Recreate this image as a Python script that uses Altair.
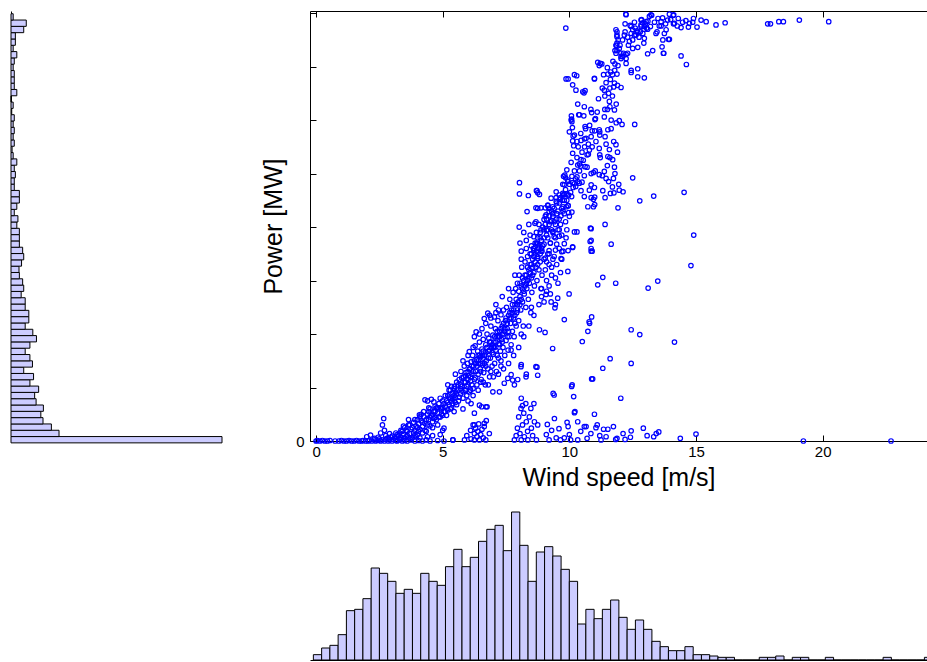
import altair as alt
import pandas as pd

# ---------------- histogram data ----------------
power_bin_start = -0.035
power_bin_width = 0.118
power_counts = [580, 132, 111, 88, 82, 89, 69, 65, 76, 52, 62, 35, 59, 52, 39, 52, 70, 60, 39, 49,
                49, 39, 39, 28, 35, 32, 23, 22, 29, 35, 32, 23, 23, 23, 16, 19, 9, 16, 23, 23,
                9, 9, 12, 9, 16, 6, 3, 9, 6, 9, 6, 9, 2, 6, 0, 16, 9, 9, 9, 6,
                9, 16, 6, 12, 12, 35, 42, 6]

wind_bin_start = -0.107
wind_bin_width = 0.326
wind_counts = [4, 9, 11, 19, 37, 38, 46, 69, 65, 59, 50, 53, 50, 65, 59, 56, 70, 83, 70, 77,
               89, 98, 101, 82, 111, 86, 59, 81, 85, 78, 68, 59, 27, 38, 31, 38, 45, 32, 23, 30,
               23, 14, 10, 7, 7, 10, 4, 4, 3, 2, 2, 0, 0, 0, 2, 2, 3, 0, 2, 2,
               0, 0, 2, 0, 0, 0, 0, 0, 0, 2, 0, 0, 0, 0, 2]

# ---------------- scatter data (wind speed, power) ----------------
calm_points = [
    (0.0, 0.0), (0.05, 0.01), (0.15, 0.0), (0.25, 0.01), (0.35, 0.0), (0.45, 0.0), (0.55, 0.01),
    (0.75, 0.0), (0.9, 0.0), (1.0, 0.01), (1.1, 0.0), (1.2, 0.0), (1.3, 0.01), (1.4, 0.0), (1.5, 0.0),
    (1.6, 0.01), (1.7, 0.0), (1.8, 0.0), (1.85, 0.01), (1.95, 0.0), (2.05, 0.0), (2.1, 0.01), (2.2, 0.0),
    (2.3, 0.02), (2.35, 0.0), (2.45, 0.01), (2.55, 0.0), (2.6, 0.02), (2.7, 0.0), (2.75, 0.03), (2.85, 0.0),
    (2.9, 0.02), (3.0, 0.0), (3.05, 0.03), (3.15, 0.01), (3.2, 0.0), (3.3, 0.02), (3.4, 0.0), (3.5, 0.01),
    (3.6, 0.0), (3.75, 0.02), (3.9, 0.0), (4.05, 0.01), (4.2, 0.0), (4.35, 0.02), (4.5, 0.0), (4.8, 0.01),
    (5.05, 0.0), (5.4, 0.02),
    (2.0, 0.08), (2.15, 0.11), (2.3, 0.05), (2.45, 0.07), (2.55, 0.15), (2.62, 0.3), (2.67, 0.42),
    (2.7, 0.2), (2.75, 0.1), (2.85, 0.06), (2.9, 0.14), (3.0, 0.09), (3.1, 0.05), (3.15, 0.15),
    (3.25, 0.1), (3.35, 0.07), (3.4, 0.18),
    (2.5, 0.04), (2.8, 0.05), (3.1, 0.08), (3.3, 0.04), (3.5, 0.06), (3.7, 0.05), (3.9, 0.1),
    (4.1, 0.06), (4.4, 0.08), (4.6, 0.1), (4.9, 0.12),
]

rise_points = [
    (3.45, 0.12), (3.5, 0.25), (3.55, 0.08), (3.6, 0.18), (3.65, 0.3), (3.7, 0.14), (3.75, 0.22),
    (3.8, 0.06), (3.85, 0.35), (3.9, 0.2), (3.95, 0.28), (4.0, 0.12), (4.0, 0.4), (4.05, 0.32),
    (4.08, 0.49), (4.1, 0.22), (4.15, 0.38), (4.2, 0.27), (4.25, 0.45), (4.3, 0.77), (4.3, 0.33),
    (4.35, 0.18), (4.4, 0.5), (4.4, 0.75), (4.45, 0.4), (4.5, 0.28), (4.5, 0.6), (4.55, 0.78),
    (4.55, 0.47), (4.6, 0.36), (4.65, 0.55), (4.65, 0.73), (4.7, 0.44), (4.75, 0.62), (4.8, 0.3),
    (4.8, 0.52), (4.85, 0.7), (4.9, 0.45), (4.95, 0.6), (5.0, 0.75), (5.05, 0.55), (5.1, 0.85),
    (5.1, 0.65), (5.15, 0.48), (5.2, 0.72), (5.25, 0.95), (5.3, 0.6), (5.3, 0.8), (5.35, 1.02),
    (5.4, 0.7), (5.4, 0.9), (5.45, 0.55), (5.46, 1.02), (5.5, 0.82), (5.55, 1.1), (5.55, 0.68),
    (3.3, 0.15), (3.55, 0.2), (3.7, 0.3), (3.85, 0.15), (4.0, 0.25), (4.15, 0.5), (4.2, 0.15),
    (4.35, 0.4), (4.45, 0.55), (4.6, 0.5), (4.7, 0.65), (4.75, 0.4), (4.9, 0.8), (4.95, 0.5),
    (5.05, 0.7), (5.2, 0.58), (5.25, 0.82), (5.35, 0.75), (5.45, 0.85),
    (3.2, 0.12), (3.35, 0.2), (3.45, 0.28), (3.6, 0.1), (3.65, 0.4), (3.8, 0.25), (3.9, 0.4),
    (3.95, 0.08), (4.05, 0.18), (4.1, 0.45), (4.2, 0.35), (4.25, 0.55), (4.3, 0.2), (4.4, 0.3),
    (4.45, 0.62), (4.5, 0.45), (4.6, 0.25), (4.65, 0.42), (4.7, 0.55), (4.8, 0.62), (4.85, 0.45),
    (4.9, 0.62), (5.0, 0.48), (5.0, 0.62), (5.1, 0.55), (5.15, 0.75), (5.2, 0.85), (5.25, 0.68),
    (5.3, 0.95), (5.35, 0.62), (5.4, 0.8), (5.45, 0.98), (5.5, 0.72), (5.5, 0.92), (5.55, 0.88),
]

mid_points = [
    (5.6, 0.95), (5.62, 0.75), (5.65, 1.15), (5.7, 0.88), (5.72, 1.3), (5.75, 1.02), (5.8, 0.8),
    (5.82, 1.2), (5.85, 1.4), (5.88, 0.95), (5.9, 1.1), (5.92, 1.28), (5.95, 0.85), (5.98, 1.45),
    (6.0, 1.05), (6.02, 1.22), (6.05, 0.92), (6.08, 1.35), (6.1, 1.12), (6.15, 1.25), (6.18, 1.6),
    (6.2, 0.98), (6.22, 1.4), (6.25, 1.95), (6.25, 1.15), (6.28, 1.78), (6.3, 1.3), (6.32, 2.04),
    (6.33, 1.52), (6.35, 1.05), (6.38, 1.68), (6.4, 1.25), (6.42, 1.45), (6.45, 1.85), (6.48, 1.35),
    (6.5, 1.58), (6.52, 1.15), (6.55, 1.72), (6.58, 1.42), (6.6, 1.9), (6.62, 1.28), (6.64, 2.29),
    (6.65, 1.6), (6.68, 1.05), (6.7, 1.8), (6.72, 1.5), (6.75, 2.0), (6.78, 2.39), (6.78, 1.35),
    (6.8, 1.68), (6.82, 1.92), (6.85, 1.2), (6.88, 1.55), (6.9, 2.15), (6.92, 1.75), (6.95, 1.4),
    (6.98, 1.98), (7.0, 1.62), (7.02, 1.85), (7.04, 2.32), (7.05, 1.45), (7.08, 2.1), (7.1, 1.7),
    (7.12, 1.3), (7.15, 1.95), (7.18, 2.25), (7.2, 1.55), (7.22, 1.82), (7.25, 2.05), (7.28, 1.68),
    (7.3, 2.36), (7.3, 1.4), (7.32, 1.9), (7.35, 2.15), (7.38, 1.75), (7.4, 2.45), (7.42, 2.0),
    (7.45, 1.6), (7.48, 2.25), (7.5, 1.88), (7.52, 2.5), (7.55, 2.1), (7.58, 1.7), (7.6, 2.35),
    (7.62, 1.95), (7.65, 2.65), (7.68, 2.2), (7.7, 1.8), (7.72, 2.45), (7.75, 2.05), (7.78, 2.78),
    (7.8, 2.3), (7.82, 1.95), (7.85, 2.55), (7.88, 2.85), (7.9, 2.15), (7.92, 2.4), (7.95, 2.95),
    (7.98, 2.6), (8.0, 2.25), (8.02, 3.1), (8.05, 2.7), (8.08, 2.45), (8.1, 2.9), (8.12, 3.25),
    (8.15, 2.6), (8.18, 2.15), (8.2, 3.0), (8.22, 2.75), (8.25, 3.35), (8.28, 2.5), (8.3, 3.1),
    (8.32, 2.85), (8.35, 3.45), (8.38, 2.65), (8.4, 3.2), (8.42, 2.95), (8.45, 3.5), (8.48, 2.4),
    (8.5, 3.3), (8.5, 3.05), (8.52, 2.78), (8.55, 3.4), (8.58, 3.6), (8.6, 3.15), (8.62, 2.9),
    (8.65, 3.5), (8.68, 3.25), (8.7, 3.7), (8.72, 3.0), (8.75, 3.45), (8.78, 3.6), (8.8, 3.2),
    (8.85, 3.35), (8.88, 3.55), (8.9, 2.85), (8.92, 3.1), (8.95, 3.65), (9.0, 3.4), (9.05, 3.2),
    (9.1, 3.0), (9.15, 3.5), (9.2, 3.3), (9.25, 2.75), (9.3, 3.1), (9.1, 3.35), (9.2, 3.5),
    (9.3, 3.25), (9.4, 3.45), (9.5, 3.3), (9.6, 3.6), (9.7, 3.4), (9.45, 3.05), (9.55, 2.95),
    (9.65, 3.15), (9.75, 3.55),
    (5.7, 1.05), (5.9, 0.95), (6.0, 1.3), (6.15, 1.05), (6.3, 1.45), (6.4, 1.6), (6.5, 1.3),
    (6.6, 1.55), (6.7, 1.4), (6.85, 1.85), (6.95, 1.65), (7.05, 1.75), (7.15, 1.6), (7.25, 1.95),
    (7.35, 1.85), (7.45, 2.1), (7.55, 1.95), (7.65, 2.3), (7.75, 2.4), (7.85, 2.2), (7.95, 2.45),
    (8.05, 2.55), (8.15, 2.85), (8.25, 2.9), (8.35, 3.0), (8.45, 3.15), (8.55, 3.1), (8.65, 3.35),
    (8.75, 3.3), (8.85, 3.5), (6.55, 2.1), (6.7, 2.2), (6.9, 2.3), (7.1, 2.4), (7.2, 2.45),
    (5.6, 1.05), (5.65, 0.82), (5.7, 0.98), (5.75, 1.18), (5.8, 0.92), (5.85, 1.1), (5.9, 1.22),
    (5.95, 1.02), (6.0, 1.15), (6.05, 1.35), (6.1, 1.2), (6.15, 1.4), (6.2, 1.3), (6.25, 1.5),
    (6.3, 1.18), (6.35, 1.4), (6.4, 1.5), (6.45, 1.6), (6.5, 1.45), (6.55, 1.6), (6.6, 1.68),
    (6.65, 1.45), (6.7, 1.65), (6.75, 1.75), (6.8, 1.55), (6.85, 1.7), (6.9, 1.85), (6.95, 1.8),
    (7.0, 1.75), (7.05, 1.95), (7.1, 1.85), (7.15, 2.05), (7.2, 1.95), (7.25, 1.8), (7.3, 2.1),
    (7.35, 2.0), (7.4, 2.2), (7.45, 2.05), (7.5, 2.3), (7.55, 2.2), (7.6, 2.05), (7.65, 2.4),
    (7.7, 2.3), (7.75, 2.55), (7.8, 2.45), (7.85, 2.35), (7.9, 2.65), (7.95, 2.55), (8.0, 2.8),
    (8.05, 2.95), (8.1, 2.65), (8.15, 3.05), (8.2, 2.8), (8.25, 3.1), (8.3, 2.95), (8.35, 3.25),
    (8.4, 3.05), (8.45, 3.3), (8.5, 3.5), (8.55, 3.25), (8.6, 3.45), (8.65, 3.7), (8.7, 3.55),
    (8.75, 3.8), (8.8, 3.65), (8.85, 3.9), (8.9, 3.6), (8.95, 4.0), (9.0, 3.8),
]

band_edge_points = [
    (5.8, 0.6), (6.0, 0.75), (6.2, 0.85), (6.4, 0.95), (6.6, 1.1), (6.8, 1.05), (7.0, 1.2),
    (7.2, 1.25), (7.4, 1.35), (7.6, 1.45), (7.8, 1.6), (8.0, 1.75), (8.2, 1.95), (8.4, 2.15),
    (8.6, 2.35), (8.8, 2.55), (9.0, 2.6), (9.2, 2.9), (6.1, 0.95), (6.5, 1.1), (6.9, 1.3),
    (7.3, 1.5), (7.7, 1.7), (8.1, 2.0), (8.5, 2.5), (8.9, 2.7),
    (5.2, 1.05), (5.5, 1.25), (5.8, 1.5), (6.0, 1.6), (6.2, 1.75), (6.45, 2.0), (6.85, 2.35),
    (7.1, 2.55), (7.35, 2.7), (7.6, 2.85), (7.85, 3.1), (8.1, 3.4), (8.3, 3.6),
]

upper_points = [
    (9.86, 7.72), (9.87, 6.77), (9.95, 6.77), (10.13, 6.66), (10.29, 6.83), (10.26, 6.56), (10.58, 6.51),
    (10.62, 6.55), (10.99, 6.77), (11.18, 7.02), (11.22, 7.06), (11.12, 7.08), (11.28, 7.05), (10.33, 6.3),
    (10.59, 6.25), (10.88, 6.14), (11.03, 6.03), (10.08, 6.08), (10.09, 6.02), (10.37, 6.1), (10.57, 6.08),
    (10.1, 5.97), (10.12, 5.86), (10.2, 5.72), (10.13, 5.61), (10.17, 5.52), (10.46, 5.62), (10.66, 5.66),
    (10.62, 5.88), (10.64, 5.84), (10.86, 5.69), (11.01, 6.01), (11.18, 5.82), (11.2, 5.78), (10.79, 5.44),
    (10.75, 5.36), (11.18, 5.47), (11.2, 5.35), (11.22, 5.3), (10.13, 5.38), (10.07, 5.21), (10.33, 5.16),
    (10.4, 5.18), (10.45, 5.14), (10.46, 5.26), (10.62, 5.13), (10.7, 5.12), (10.86, 5.0), (10.95, 5.02),
    (11.02, 5.05), (10.59, 4.96), (11.18, 4.98), (11.3, 4.96), (9.9, 5.07), (9.77, 4.95), (9.82, 4.97),
    (10.33, 4.85), (10.4, 4.82), (10.5, 4.84), (10.13, 4.83), (10.2, 4.81), (10.3, 4.94), (9.94, 4.85),
    (9.8, 4.79), (10.15, 4.74), (10.25, 4.76), (10.46, 4.68), (10.79, 4.69), (10.86, 4.79), (10.99, 4.74),
    (10.86, 4.55), (10.95, 4.52), (11.0, 4.56), (10.59, 4.57), (10.73, 4.38), (10.95, 4.38), (11.0, 4.42),
    (9.87, 4.62), (9.97, 4.6), (9.63, 4.52), (9.72, 4.5), (9.48, 4.55), (9.6, 4.6), (9.15, 4.4),
    (9.05, 4.36), (9.48, 4.66), (9.74, 4.63), (9.8, 4.61), (9.28, 4.54), (8.75, 4.64), (8.7, 4.68),
    (8.88, 4.36), (8.68, 4.36), (9.75, 4.38), (9.88, 4.38), (9.95, 4.4), (9.97, 4.27), (10.1, 4.28),
    (10.09, 4.57), (10.2, 3.91), (10.3, 3.91), (10.83, 3.98), (10.82, 3.73), (10.86, 3.6), (10.13, 3.62),
    (10.9, 3.55),
    (9.2, 4.21), (9.35, 4.2), (9.67, 4.21), (9.0, 4.14), (9.3, 4.12), (9.5, 4.15), (8.64, 4.07),
    (8.68, 4.1), (8.88, 3.95), (9.1, 3.94), (9.35, 3.92), (9.6, 3.95), (8.6, 3.82), (8.85, 3.8),
    (9.15, 3.8), (9.4, 3.82), (9.6, 3.83), (9.87, 3.8), (8.75, 3.69), (9.0, 3.68), (9.25, 3.7),
    (9.5, 3.68), (9.8, 3.69), (8.6, 3.56), (8.92, 3.55), (9.2, 3.56), (9.45, 3.57), (9.7, 3.54),
    (9.95, 3.56), (8.75, 3.41), (9.05, 3.42), (9.35, 3.4), (9.67, 3.41),
    (8.6, 3.6), (8.7, 3.9), (8.8, 4.05), (8.9, 3.75), (9.0, 3.95), (9.05, 4.2), (9.1, 3.85),
    (9.2, 4.05), (9.25, 3.7), (9.3, 4.3), (9.35, 3.9), (9.4, 4.1), (9.45, 3.8), (9.5, 4.25),
    (9.55, 3.95), (9.6, 4.45), (9.65, 4.05), (9.7, 3.85), (9.75, 4.3), (9.8, 4.5), (9.85, 4.1),
    (9.9, 3.95), (9.95, 4.4), (10.0, 4.2),
    (8.03, 4.83), (8.03, 4.62), (8.38, 4.59), (8.72, 4.68), (8.82, 4.61), (8.33, 4.29), (8.75, 4.35),
    (9.15, 4.41), (9.74, 4.8), (9.85, 4.92), (9.94, 4.88), (9.34, 4.38), (9.48, 4.48), (9.08, 4.23),
    (9.2, 4.29), (8.02, 4.0), (8.05, 3.7), (8.1, 3.55), (8.2, 3.9), (8.3, 3.75), (8.45, 3.85),
    (8.4, 4.05), (8.5, 3.65),
    (10.0, 5.78), (10.15, 5.7), (10.3, 5.6), (10.45, 5.75), (10.6, 5.65), (10.75, 5.55), (10.9, 5.8),
    (11.05, 5.6), (11.2, 5.72), (10.2, 6.85), (10.4, 6.1), (10.53, 6.53), (10.07, 6.0), (10.99, 6.78),
    (11.45, 6.7), (11.62, 6.76), (11.75, 6.62), (11.9, 6.65), (11.55, 6.5), (11.7, 6.45), (11.6, 6.25),
    (11.85, 6.3), (11.4, 6.2), (11.65, 6.0), (11.85, 5.95), (11.45, 5.55), (11.75, 5.6), (11.9, 5.4),
    (11.6, 5.3), (11.5, 5.15), (11.8, 5.0), (11.55, 4.85), (11.7, 4.75), (11.95, 4.8),
    (9.05, 4.05), (9.1, 4.15), (9.15, 3.95), (9.2, 4.35), (9.25, 4.1), (9.3, 3.95), (9.35, 4.25),
    (9.4, 4.35), (9.45, 4.05), (9.5, 4.45), (9.55, 4.3), (9.6, 4.15), (9.65, 4.55), (9.7, 4.35),
    (9.75, 4.6), (9.8, 4.25), (9.85, 4.7), (9.9, 4.5), (9.95, 4.6), (10.0, 4.8), (10.05, 4.65),
    (10.1, 4.95), (10.2, 5.05), (10.25, 4.9), (10.3, 5.3), (10.35, 5.5), (10.4, 5.05), (10.5, 5.4),
    (10.55, 5.25), (10.6, 5.5), (10.7, 5.35), (10.8, 5.9), (10.85, 6.2), (10.9, 5.5), (11.0, 5.8),
    (11.1, 6.15), (11.15, 6.4), (11.3, 6.6), (11.35, 6.85), (11.4, 6.45), (11.5, 6.2), (11.6, 6.6),
    (11.7, 6.85), (11.8, 7.05),
]

rated_points = [
    (12.23, 7.98), (12.83, 7.87), (13.22, 7.97), (13.68, 7.91), (13.95, 7.98), (14.1, 7.96), (14.47, 7.83),
    (14.74, 7.81), (14.87, 7.83), (15.2, 7.87), (15.4, 7.84), (15.79, 7.78), (16.15, 7.82), (17.83, 7.8),
    (17.94, 7.8), (18.27, 7.84), (18.45, 7.84), (19.08, 7.87), (20.24, 7.84), (14.41, 7.73), (14.7, 7.74),
    (15.04, 7.74), (12.2, 7.8), (12.44, 7.75), (13.55, 7.76), (13.82, 7.69), (13.95, 7.51), (13.66, 7.37),
    (13.73, 7.25), (13.29, 7.3), (13.09, 7.24), (12.7, 7.36), (12.96, 7.53), (13.36, 7.83), (12.7, 6.81),
    (12.96, 6.79), (12.44, 6.89), (12.04, 6.61), (11.78, 6.69), (11.88, 6.86), (11.52, 6.86), (11.38, 6.56),
    (11.58, 6.35), (11.78, 6.19), (11.38, 6.06), (11.52, 5.82), (11.41, 5.69), (11.65, 5.84), (11.84, 5.54),
    (11.58, 5.45), (11.52, 5.32), (11.71, 5.26), (11.78, 5.12), (11.38, 5.04), (11.45, 4.91), (11.74, 4.91),
    (11.32, 4.68), (11.62, 4.63), (11.76, 4.64), (11.97, 4.69), (12.12, 4.66), (11.41, 4.55), (12.5, 7.34),
    (12.24, 7.15), (12.14, 7.25), (12.04, 7.19), (11.84, 7.25), (11.88, 7.3), (11.86, 7.4), (11.88, 7.56),
    (11.88, 7.65), (12.17, 7.59), (12.37, 7.47), (12.33, 7.4), (12.63, 7.59), (12.67, 7.67), (12.94, 7.44),
    (12.83, 7.75), (12.96, 7.75), (13.09, 7.7), (12.57, 7.83), (12.5, 7.69), (13.42, 7.62), (13.62, 7.76),
    (13.75, 7.62), (14.11, 7.8), (14.26, 7.76),
    (11.84, 7.69), (11.88, 7.59), (11.93, 7.5), (11.88, 7.44), (11.97, 7.34), (12.04, 7.25), (12.11, 7.19),
    (12.24, 7.06), (12.3, 7.25), (12.44, 7.62), (12.57, 7.59), (12.7, 7.64), (12.83, 7.78), (13.03, 7.84),
    (13.16, 7.94), (13.25, 7.96), (13.46, 7.65), (13.62, 7.84), (13.69, 7.5), (13.71, 7.25), (13.88, 7.87),
    (14.12, 7.97), (14.15, 7.81), (13.91, 7.51), (12.24, 7.97), (12.4, 7.77), (12.85, 7.88), (12.9, 7.82),
    (13.0, 7.8), (12.95, 7.7), (13.05, 7.72), (12.9, 7.62), (11.5, 6.98), (11.63, 6.9), (11.79, 6.93),
    (11.92, 7.02), (11.72, 7.1), (11.8, 7.3), (11.84, 7.4), (12.04, 7.15), (12.24, 7.23), (12.44, 6.93),
    (12.7, 6.96), (14.41, 7.2), (14.62, 7.04),
    (12.0, 7.4), (12.1, 7.5), (12.2, 7.65), (12.3, 7.55), (12.5, 7.5), (12.6, 7.72), (12.75, 7.55),
    (12.8, 7.65), (13.1, 7.85), (13.2, 7.75), (13.5, 7.9), (13.8, 7.8), (14.0, 7.88), (14.3, 7.9),
    (14.6, 7.86), (14.9, 7.9),
]

scattered_points = [
    (14.53, 4.65), (14.91, 3.85), (14.8, 3.28), (13.49, 2.99), (13.11, 2.86), (11.83, 2.95), (11.32, 3.06),
    (11.65, 3.68), (11.41, 4.05), (11.92, 4.36), (12.78, 4.49), (13.33, 4.58), (12.5, 4.92), (12.58, 5.92),
    (11.97, 5.99), (12.08, 5.92), (12.44, 2.08), (12.78, 1.99), (14.15, 1.85), (11.61, 1.54), (12.44, 1.45),
    (11.32, 1.36), (12.03, 0.8),
    (9.34, 1.73), (8.72, 1.38), (9.8, 2.27), (9.04, 2.03), (8.82, 2.08), (10.51, 1.86), (10.73, 2.05),
    (10.8, 2.2), (10.88, 2.32), (11.12, 2.92), (10.88, 1.16), (9.36, 0.89), (9.4, 0.86), (10.11, 1.05),
    (10.09, 1.02), (10.17, 0.83), (10.22, 0.55), (10.2, 0.53), (10.99, 0.5),
    (10.13, 3.63), (9.94, 3.17), (9.99, 2.75), (9.43, 2.49), (9.45, 2.55), (9.54, 2.67), (9.28, 2.6),
    (9.08, 2.74), (9.1, 2.8), (8.88, 2.85), (10.78, 2.23), (10.86, 3.55), (10.86, 3.75), (10.86, 3.97),
    (10.92, 1.16),
    (8.09, 1.39), (8.29, 1.2), (7.96, 1.15), (7.83, 1.05), (7.7, 1.24), (6.75, 0.64), (6.54, 0.64),
    (6.98, 0.92), (7.24, 0.92), (7.43, 1.08), (7.57, 1.17), (7.76, 1.14), (8.1, 1.43), (8.3, 1.25),
    (8.75, 1.23), (8.68, 1.39), (6.05, 1.67), (6.12, 1.48), (6.45, 0.67), (6.12, 0.7), (6.25, 0.52),
    (6.64, 0.33), (6.25, 0.3), (6.71, 0.64),
]

low_points = [
    (5.0, 0.2), (5.05, 0.24), (5.4, 0.02),
    (5.86, 0.02), (5.95, 0.1), (6.1, 0.2), (6.12, 0.04), (6.2, 0.3), (6.25, 0.14), (6.25, 0.02),
    (6.3, 0.24), (6.35, 0.08), (6.38, 0.18), (6.42, 0.32), (6.45, 0.02), (6.5, 0.12), (6.55, 0.22),
    (6.6, 0.06), (6.64, 0.27), (6.7, 0.02), (6.84, 0.14), (6.72, 0.38),
    (7.83, 0.02), (7.9, 0.1), (7.95, 0.24), (8.0, 0.45), (8.05, 0.14), (8.09, 0.61), (8.1, 0.02),
    (8.15, 0.3), (8.2, 0.52), (8.22, 0.08), (8.28, 0.7), (8.3, 0.36), (8.35, 0.18), (8.36, 0.02),
    (8.42, 0.45), (8.48, 0.61), (8.5, 0.24), (8.55, 0.1), (8.6, 0.7), (8.62, 0.36), (8.7, 0.02),
    (8.75, 0.3), (8.1, 0.8), (8.15, 0.66),
    (9.09, 0.12), (9.13, 0.31), (9.2, 0.02), (9.3, 0.2), (9.41, 0.42), (9.48, 0.06), (9.59, 0.23),
    (9.65, 0.02), (9.8, 0.06), (9.91, 0.35), (9.95, 0.27), (10.0, 0.12), (10.05, 0.02), (10.33, 0.36),
    (10.33, 0.02), (10.45, 0.18), (10.59, 0.27), (10.66, 0.27), (10.7, 0.05), (10.85, 0.14), (11.05, 0.25),
    (11.1, 0.3), (11.2, 0.1), (11.25, 0.02), (11.35, 0.22),
    (11.74, 0.27), (11.52, 0.22), (11.45, 0.08), (11.88, 0.05), (12.12, 0.14), (12.44, 0.19), (12.41, 0.07),
    (12.92, 0.24), (13.07, 0.1), (13.33, 0.08), (13.53, 0.17), (13.43, 0.14), (14.38, 0.05), (15.0, 0.13),
    (12.2, 0.03), (11.83, 0.03), (19.24, 0.0), (22.7, 0.0),
]

x_tick_values = [0, 5, 10, 15, 20]
y_tick_values = [0, 1, 2, 3, 4, 5, 6, 7, 8]
y_label_values = [0]

# ---------------- tables ----------------
all_points = (calm_points + rise_points + mid_points + band_edge_points + upper_points
              + rated_points + scattered_points + low_points)
scatter_df = pd.DataFrame(all_points, columns=["wind", "power"])

left_df = pd.DataFrame({
    "p0": [power_bin_start + i * power_bin_width for i in range(len(power_counts))],
    "p1": [power_bin_start + (i + 1) * power_bin_width for i in range(len(power_counts))],
    "count": power_counts,
    "zero": [0] * len(power_counts),
})
bottom_df = pd.DataFrame({
    "w0": [wind_bin_start + i * wind_bin_width for i in range(len(wind_counts))],
    "w1": [wind_bin_start + (i + 1) * wind_bin_width for i in range(len(wind_counts))],
    "count": wind_counts,
    "zero": [0] * len(wind_counts),
})

# ---------------- layout constants ----------------
W_MAIN, H_MAIN = 617, 430
W_LEFT, H_BOTTOM = 211, 150
X_DOMAIN = [-0.24, 24.12]
Y_DOMAIN = [0, 8.04]
BAR_FILL = "#ccccff"
FONT = "Liberation Sans"

xs = alt.Scale(domain=X_DOMAIN, nice=False, zero=False)
ys = alt.Scale(domain=Y_DOMAIN, nice=False, zero=False)

# ---------------- scatter panel ----------------
points = alt.Chart(scatter_df).mark_point(
    shape="circle", filled=False, color="#0000ff", size=20, strokeWidth=1.2, opacity=1
).encode(
    x=alt.X("wind:Q", scale=xs, axis=alt.Axis(
        orient="bottom", values=x_tick_values, ticks=False, grid=False, labelFlush=False,
        labelFontSize=15, labelPadding=3, title="Wind speed [m/s]", titleFontSize=25,
        titlePadding=6)),
    y=alt.Y("power:Q", scale=ys, axis=alt.Axis(
        orient="left", values=y_label_values, ticks=False, grid=False,
        labelFontSize=15, labelPadding=6, title="Power [MW]", titleFontSize=25,
        titlePadding=9)),
)

inner_ticks = alt.Chart(scatter_df).mark_point(opacity=0).encode(
    x=alt.X("wind:Q", scale=xs, axis=alt.Axis(
        orient="top", offset=-H_MAIN, values=x_tick_values, labels=False, domain=False,
        ticks=True, tickSize=6, grid=False, title=None)),
    y=alt.Y("power:Q", scale=ys, axis=alt.Axis(
        orient="right", offset=-W_MAIN, values=y_tick_values, labels=False, domain=False,
        ticks=True, tickSize=6, grid=False, title=None)),
)

top_frame = alt.Chart(scatter_df).mark_point(opacity=0).encode(
    x=alt.X("wind:Q", scale=xs, axis=alt.Axis(
        orient="bottom", offset=-H_MAIN, values=x_tick_values, labels=False, domain=True,
        ticks=True, tickSize=6, grid=False, title=None)),
    y=alt.Y("power:Q", scale=ys, axis=None),
)

scatter = alt.layer(top_frame, inner_ticks, points).resolve_axis(
    x="independent", y="independent"
).properties(width=W_MAIN, height=H_MAIN)

# ---------------- marginal histograms ----------------
left_hist = alt.Chart(left_df).mark_rect(
    fill=BAR_FILL, stroke="black", strokeWidth=1
).encode(
    x=alt.X("zero:Q", scale=alt.Scale(domain=[0, 580], nice=False), axis=None),
    x2="count:Q",
    y=alt.Y("p0:Q", scale=ys, axis=alt.Axis(
        orient="left", labels=False, ticks=False, grid=False, domain=True, title=None)),
    y2="p1:Q",
).properties(width=W_LEFT, height=H_MAIN)

bottom_hist = alt.Chart(bottom_df).mark_rect(
    fill=BAR_FILL, stroke="black", strokeWidth=1, clip=True
).encode(
    x=alt.X("w0:Q", scale=xs, axis=alt.Axis(
        orient="bottom", labels=False, ticks=False, grid=False, domain=True, title=None)),
    x2="w1:Q",
    y=alt.Y("zero:Q", scale=alt.Scale(domain=[0, 112.5], nice=False), axis=None),
    y2="count:Q",
).properties(width=W_MAIN, height=H_BOTTOM)

spacer = alt.Chart(pd.DataFrame({"v": [0.5]})).mark_point(opacity=0).encode(
    x=alt.X("v:Q", scale=alt.Scale(domain=[0, 1]), axis=None),
    y=alt.Y("v:Q", scale=alt.Scale(domain=[0, 1]), axis=None),
).properties(width=W_LEFT, height=H_BOTTOM)

chart = alt.concat(
    left_hist, scatter, spacer, bottom_hist,
    columns=2, spacing={"row": 69, "column": 88}, bounds="flush",
).properties(
    padding={"left": 10, "top": 9, "right": 0, "bottom": 3}
).configure_view(
    stroke=None
).configure_axis(
    domainColor="black", tickColor="black", labelColor="black", titleColor="black",
    labelFont=FONT, titleFont=FONT, titleFontWeight="normal", domainWidth=1, tickWidth=1,
)

chart.save("out.html", embed_options={"renderer": "svg", "actions": False})
